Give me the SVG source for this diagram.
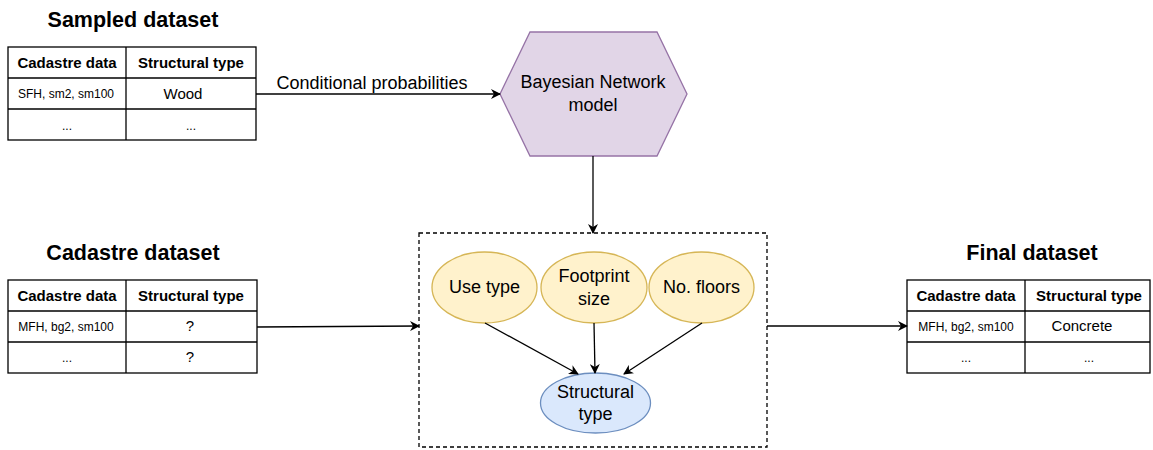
<svg xmlns="http://www.w3.org/2000/svg" width="1153" height="450" viewBox="0 0 1153 450">
<defs>
<style>
text{font-family:"Liberation Sans",Arial,sans-serif;fill:#000;text-anchor:middle}
.title{font-size:21.5px;font-weight:bold}
.hd{font-size:15px;font-weight:bold}
.sm{font-size:12px}
.md{font-size:15px}
.lb{font-size:18px}
.cell{fill:#fff;stroke:#000;stroke-width:1.3}
.edge{stroke:#000;stroke-width:1.3;fill:none;marker-end:url(#ah)}
.yel{fill:#fff2cc;stroke:#d6b656;stroke-width:1.3}
</style>
<marker id="ah" viewBox="0 0 10 10" refX="9" refY="5" markerWidth="10" markerHeight="10" markerUnits="userSpaceOnUse" orient="auto">
<path d="M0,0 L10,5 L0,10 L3,5 Z" fill="#000"/>
</marker>
</defs>
<rect width="1153" height="450" fill="#fff"/>

<g id="sampled">
<text class="title" x="133" y="27">Sampled dataset</text>
<rect class="cell" x="8" y="47" width="248" height="93"/>
<line class="cell" x1="126" y1="47" x2="126" y2="140"/>
<line class="cell" x1="8" y1="78" x2="256" y2="78"/>
<line class="cell" x1="8" y1="109" x2="256" y2="109"/>
<text class="hd" x="67" y="68">Cadastre data</text>
<text class="hd" x="191" y="68">Structural type</text>
<text class="sm" x="66" y="98">SFH, sm2, sm100</text>
<text class="md" x="183" y="99">Wood</text>
<text class="sm" x="67" y="130">...</text>
<text class="sm" x="191" y="130">...</text>
</g>

<g id="cadastre">
<text class="title" x="133" y="260">Cadastre dataset</text>
<rect class="cell" x="8" y="280" width="249" height="93"/>
<line class="cell" x1="126" y1="280" x2="126" y2="373"/>
<line class="cell" x1="8" y1="311" x2="257" y2="311"/>
<line class="cell" x1="8" y1="342" x2="257" y2="342"/>
<text class="hd" x="67" y="301">Cadastre data</text>
<text class="hd" x="191" y="301">Structural type</text>
<text class="sm" x="66" y="331">MFH, bg2, sm100</text>
<text class="md" x="190" y="331">?</text>
<text class="sm" x="67" y="362">...</text>
<text class="md" x="190" y="362">?</text>
</g>

<g id="final">
<text class="title" x="1032" y="260">Final dataset</text>
<rect class="cell" x="907" y="280" width="243" height="93"/>
<line class="cell" x1="1025" y1="280" x2="1025" y2="373"/>
<line class="cell" x1="907" y1="311" x2="1150" y2="311"/>
<line class="cell" x1="907" y1="342" x2="1150" y2="342"/>
<text class="hd" x="966" y="301">Cadastre data</text>
<text class="hd" x="1089" y="301">Structural type</text>
<text class="sm" x="966" y="331">MFH, bg2, sm100</text>
<text class="md" x="1082" y="331">Concrete</text>
<text class="sm" x="966" y="362">...</text>
<text class="sm" x="1089" y="362">...</text>
</g>

<g id="bayes">
<polygon points="530,32 657,32 687,94 657,156 530,156 500,94" fill="#e1d5e7" stroke="#9673a6" stroke-width="1.3"/>
<text class="lb" x="593" y="88">Bayesian Network</text>
<text class="lb" x="593" y="111">model</text>
</g>

<g id="network">
<rect x="419" y="233" width="348" height="214" fill="none" stroke="#000" stroke-width="1.3" stroke-dasharray="4 3"/>
</g>

<g id="usetype">
<ellipse class="yel" cx="484.5" cy="287.5" rx="52.5" ry="35.5"/>
<text class="lb" x="484.5" y="293">Use type</text>
</g>
<g id="footprint">
<ellipse class="yel" cx="594" cy="287.5" rx="53" ry="35.5"/>
<text class="lb" x="594" y="282">Footprint</text>
<text class="lb" x="594" y="305">size</text>
</g>
<g id="floors">
<ellipse class="yel" cx="701.5" cy="287.5" rx="52.5" ry="35.5"/>
<text class="lb" x="701.5" y="293">No. floors</text>
</g>
<g id="structural">
<ellipse cx="595.5" cy="403" rx="55" ry="30" fill="#dae8fc" stroke="#6c8ebf" stroke-width="1.3"/>
<text class="lb" x="595.5" y="398">Structural</text>
<text class="lb" x="595.5" y="420">type</text>
</g>

<g id="connectors">
<line class="edge" x1="256" y1="94" x2="500" y2="94"/>
<text class="lb" x="372" y="89">Conditional probabilities</text>
<line class="edge" x1="593" y1="156" x2="593" y2="233"/>
<line class="edge" x1="257" y1="327" x2="419" y2="326"/>
<line class="edge" x1="767" y1="326" x2="907" y2="326"/>
<line class="edge" x1="485" y1="323" x2="578" y2="374"/>
<line class="edge" x1="594" y1="323" x2="595" y2="373"/>
<line class="edge" x1="702" y1="323" x2="624" y2="374"/>
</g>
</svg>
